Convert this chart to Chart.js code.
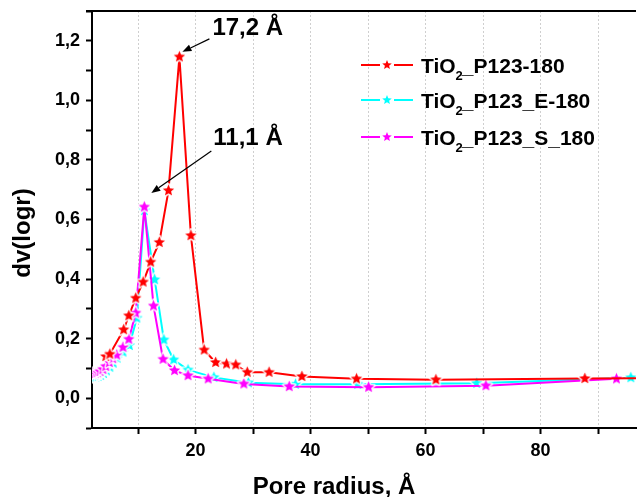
<!DOCTYPE html>
<html>
<head>
<meta charset="utf-8">
<script src="https://cdn.jsdelivr.net/npm/chart.js@4.4.0/dist/chart.umd.min.js"></script>
<style>
html,body{margin:0;padding:0;background:#fff;}
#wrap{width:644px;height:497px;}
</style>
</head>
<body>
<div id="wrap"><canvas id="c" width="644" height="497"></canvas></div>
<script>
// ---- data ----
const seriesNames = ["TiO2_P123-180", "TiO2_P123_E-180", "TiO2_P123_S_180"];
const seriesColors = ["#ff0000", "#00ffff", "#ff00ff"];

const p123_x = [4.4, 5.1, 7.5, 8.4, 9.6, 10.9, 12.2, 13.7, 15.3, 17.2, 19.2, 21.5, 23.5, 25.4, 27.0, 29.0, 32.8, 38.5, 48.0, 61.8, 87.7, 104];
const p123_y = [0.140, 0.148, 0.230, 0.277, 0.336, 0.390, 0.457, 0.523, 0.697, 1.146, 0.546, 0.162, 0.120, 0.115, 0.112, 0.087, 0.087, 0.073, 0.065, 0.062, 0.066, 0.068];

const e180_x = [2.3, 2.7, 3.1, 3.5, 4.0, 4.5, 5.1, 5.7, 6.4, 7.4, 8.5, 9.8, 11.1, 12.9, 14.5, 16.2, 18.7, 23.2, 29.2, 37.4, 48.2, 68.9, 95.7];
const e180_y = [0.070, 0.071, 0.073, 0.077, 0.083, 0.092, 0.104, 0.118, 0.135, 0.155, 0.177, 0.269, 0.630, 0.398, 0.196, 0.129, 0.095, 0.070, 0.052, 0.047, 0.047, 0.050, 0.069];

const s180_x = [2.2, 2.6, 3.0, 3.4, 3.9, 4.4, 5.0, 5.6, 6.3, 7.4, 8.4, 9.6, 11.1, 12.7, 14.35, 16.35, 18.7, 22.2, 28.4, 36.3, 50.1, 70.5, 93.2];
const s180_y = [0.082, 0.083, 0.086, 0.090, 0.097, 0.107, 0.120, 0.133, 0.145, 0.171, 0.198, 0.286, 0.642, 0.310, 0.131, 0.093, 0.076, 0.065, 0.048, 0.039, 0.037, 0.042, 0.065];

const xTickValues = [10, 20, 30, 40, 50, 60, 70, 80, 90];
const xTickLabels = [20, 40, 60, 80];
const yTickValues = [-0.1, 0.0, 0.1, 0.2, 0.3, 0.4, 0.5, 0.6, 0.7, 0.8, 0.9, 1.0, 1.1, 1.2, 1.3];
const yTickLabels = [0.0, 0.2, 0.4, 0.6, 0.8, 1.0, 1.2];

const annotationTexts = ["17,2 Å", "11,1 Å"];
const xTitle = "Pore radius, Å";
const yTitle = "dv(logr)";

// ---- helpers ----
const FONT = "'Liberation Sans', Arial, Helvetica, sans-serif";
function toPoints(xs, ys){ return xs.map((x,i)=>({x:x, y:ys[i]})); }
function starPath(ctx, cx, cy, R, r){
  ctx.beginPath();
  for (let i=0;i<10;i++){
    const a = -Math.PI/2 + i*Math.PI/5;
    const rad = (i%2===0)?R:r;
    const px = cx + rad*Math.cos(a), py = cy + rad*Math.sin(a);
    if(i===0) ctx.moveTo(px,py); else ctx.lineTo(px,py);
  }
  ctx.closePath();
}
function starImage(color, R, halo){
  const c = document.createElement('canvas');
  const s = Math.ceil(2*(R+halo+1));
  c.width = s; c.height = s;
  const g = c.getContext('2d');
  if (halo>0){
    starPath(g, s/2, s/2, R, R*0.45);
    g.lineWidth = halo*2; g.strokeStyle = 'rgba(255,255,255,0.9)'; g.lineJoin='round'; g.stroke();
  }
  starPath(g, s/2, s/2, R, R*0.45);
  g.fillStyle = color; g.fill();
  return c;
}
const starImgs = seriesColors.map(c=>starImage(c, 6, 1.5));

// ---- custom drawing plugin: frame, titles, legend, annotations ----
const extrasPlugin = {
  id: 'extras',
  afterDraw(chart){
    const ctx = chart.ctx;
    const ca = chart.chartArea;
    const xs = chart.scales.x, ys = chart.scales.y;
    ctx.save();
    // top frame line
    ctx.strokeStyle = '#000'; ctx.lineWidth = 2;
    ctx.beginPath(); ctx.moveTo(ca.left-6, ca.top); ctx.lineTo(ca.right, ca.top); ctx.stroke();

    // axis titles
    ctx.fillStyle = '#000';
    ctx.font = "bold 24px " + FONT;
    ctx.textAlign = 'center'; ctx.textBaseline = 'alphabetic';
    ctx.fillText(xTitle, 334, 494);
    ctx.save();
    ctx.translate(30, 233);
    ctx.rotate(-Math.PI/2);
    ctx.fillText(yTitle, 0, 0);
    ctx.restore();

    // legend
    const rows = [65, 100, 137];
    seriesNames.forEach((name, i)=>{
      const y = rows[i];
      ctx.strokeStyle = seriesColors[i]; ctx.lineWidth = 2;
      ctx.beginPath(); ctx.moveTo(361, y); ctx.lineTo(380, y); ctx.moveTo(394, y); ctx.lineTo(413, y); ctx.stroke();
      starPath(ctx, 387, y, 5, 2.2); ctx.fillStyle = seriesColors[i]; ctx.fill();
      // text with subscript 2
      ctx.fillStyle = '#000'; ctx.textAlign = 'left'; ctx.textBaseline = 'alphabetic';
      const base = y + 8;
      const idx = name.indexOf('2');
      const pre = name.slice(0, idx), sub = '2', post = name.slice(idx+1);
      let x = 421;
      ctx.font = "bold 21px " + FONT;
      ctx.fillText(pre, x, base); x += ctx.measureText(pre).width;
      ctx.font = "bold 13px " + FONT;
      ctx.fillText(sub, x, base + 7); x += ctx.measureText(sub).width - 1;
      ctx.font = "bold 21px " + FONT;
      ctx.fillText(post, x, base);
    });

    // annotations with arrows (anchored to peaks of the data)
    function peakOf(xsArr, ysArr){ let k=0; ysArr.forEach((v,i)=>{ if(v>ysArr[k]) k=i; }); return {x: xs.getPixelForValue(xsArr[k]), y: ys.getPixelForValue(ysArr[k])}; }
    const pk1 = peakOf(p123_x, p123_y);
    const pk2 = peakOf(s180_x, s180_y);
    const ann = [
      {text: annotationTexts[0], tip: {x: pk1.x+3, y: pk1.y-5}, tail: {x: pk1.x+30, y: pk1.y-18}, tx: pk1.x+33, ty: pk1.y-22},
      {text: annotationTexts[1], tip: {x: pk2.x+7, y: pk2.y-14}, tail: {x: pk2.x+67, y: pk2.y-56}, tx: pk2.x+69, ty: pk2.y-62}
    ];
    ann.forEach(a=>{
      ctx.strokeStyle = '#000'; ctx.fillStyle = '#000'; ctx.lineWidth = 1.2;
      const ang = Math.atan2(a.tip.y - a.tail.y, a.tip.x - a.tail.x);
      const hl = 9, hw = 3.5;
      const bx = a.tip.x - hl*Math.cos(ang), by = a.tip.y - hl*Math.sin(ang);
      ctx.beginPath(); ctx.moveTo(a.tail.x, a.tail.y); ctx.lineTo(bx, by); ctx.stroke();
      ctx.beginPath();
      ctx.moveTo(a.tip.x, a.tip.y);
      ctx.lineTo(bx + hw*Math.sin(ang), by - hw*Math.cos(ang));
      ctx.lineTo(bx - hw*Math.sin(ang), by + hw*Math.cos(ang));
      ctx.closePath(); ctx.fill();
      ctx.font = "bold 24px " + FONT; ctx.textAlign = 'left'; ctx.textBaseline = 'alphabetic';
      ctx.fillText(a.text, a.tx, a.ty);
    });
    ctx.restore();
  }
};

function ds(label, xs, ys, i, order){
  return {
    label: label,
    data: toPoints(xs, ys),
    borderColor: seriesColors[i],
    backgroundColor: seriesColors[i],
    borderWidth: 2,
    pointStyle: starImgs[i],
    pointRadius: 6,
    pointHoverRadius: 6,
    tension: 0,
    order: order
  };
}

new Chart(document.getElementById('c'), {
  type: 'line',
  data: {
    datasets: [
      ds(seriesNames[0], p123_x, p123_y, 0, 0),
      ds(seriesNames[1], e180_x, e180_y, 1, 2),
      ds(seriesNames[2], s180_x, s180_y, 2, 1)
    ]
  },
  options: {
    responsive: false,
    animation: false,
    layout: { padding: { top: 11, right: 0, left: 0, bottom: 0 } },
    plugins: { legend: { display: false }, tooltip: { enabled: false } },
    scales: {
      x: {
        type: 'linear', min: 2, max: 96.6,
        afterBuildTicks: s => { s.ticks = xTickValues.map(v=>({value:v})); },
        afterFit: s => { s.height = 69; s.paddingLeft = 0; s.paddingRight = 0; },
        ticks: {
          autoSkip: false, maxRotation: 0, color: '#000', padding: 6,
          font: { family: FONT, size: 18, weight: 'bold' },
          callback: v => xTickLabels.includes(v) ? String(v) : ''
        },
        grid: { display: true, drawOnChartArea: true, color: '#cfcfcf', lineWidth: 1,
                tickColor: '#000', tickWidth: 2, tickLength: 6, tickBorderDash: [] },
        border: { display: true, color: '#000', width: 2, dash: [2, 2] }
      },
      y: {
        type: 'linear', min: -0.1, max: 1.3,
        afterBuildTicks: s => { s.ticks = yTickValues.map(v=>({value:v})); },
        afterFit: s => { s.width = 92; s.paddingTop = 0; s.paddingBottom = 0; },
        ticks: {
          autoSkip: false, color: '#000', padding: 6,
          font: { family: FONT, size: 18, weight: 'bold' },
          callback: v => yTickLabels.some(t=>Math.abs(t-v)<1e-6) ? v.toFixed(1).replace('.', ',') : ''
        },
        grid: { display: true, drawOnChartArea: false, tickColor: '#000', tickWidth: 2, tickLength: 6 },
        border: { display: true, color: '#000', width: 2 }
      }
    }
  },
  plugins: [extrasPlugin]
});
</script>
</body>
</html>
